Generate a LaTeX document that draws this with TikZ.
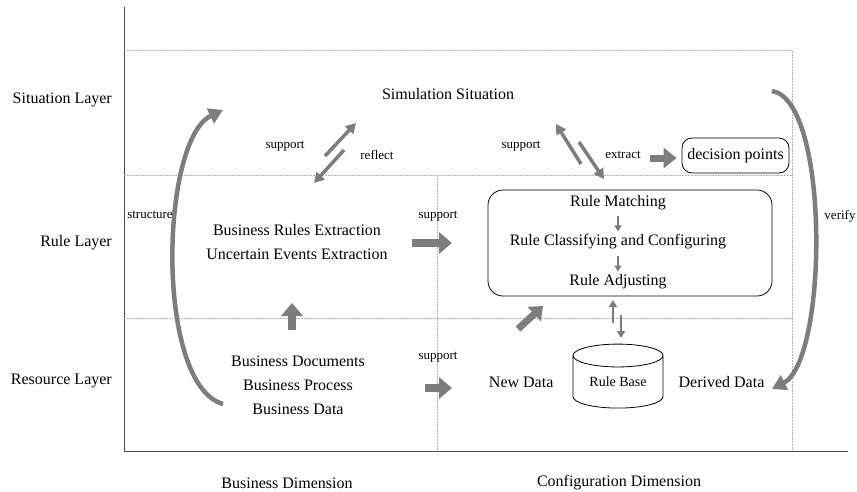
\documentclass[tikz,border=0pt]{standalone}
\usepackage{fontspec}
\setmainfont{Liberation Serif}
\usetikzlibrary{shapes.geometric, positioning, arrows.meta}
\definecolor{arrowgray}{RGB}{125,125,125}

\begin{document}
\begin{tikzpicture}[
    x=1pt, y=-1pt,
    % Define node styles
    layer/.style={
        anchor=east,
        inner sep=1pt,
        font=\fontsize{16}{19}\selectfont
    },
    content/.style={
        align=center,
        inner sep=1pt,
        font=\fontsize{16}{24}\selectfont
    },
    tag/.style={
        inner sep=1pt,
        font=\fontsize{13}{15}\selectfont
    },
    roundbox/.style={
        rectangle,
        draw,
        rounded corners=15pt,
        line width=0.8pt
    },
    database/.style={
        cylinder,
        shape border rotate=90,  % Stands upright
        draw,
        aspect=0.4,
        minimum width=90pt,
        minimum height=64pt,
        inner sep=0pt,
        line width=0.8pt,
        font=\fontsize{14}{16}\selectfont
    },
    guide/.style={
        draw=gray!60,
        dash pattern=on 2pt off 1pt,
        line width=0.5pt
    },
    axis/.style={
        draw=black!70,
        line width=0.8pt
    },
    % Define arrow styles
    fatarrow/.style={
        draw=arrowgray,
        line width=8pt,
        -{Triangle[width=21pt, length=13pt]}
    },
    thinarrow/.style={
        draw=arrowgray,
        line width=3.5pt,
        -{Triangle[width=11pt, length=10pt]}
    },
    smallarrow/.style={
        draw=arrowgray,
        line width=2.5pt,
        -{Triangle[width=8pt, length=7pt]}
    },
    tinyarrow/.style={
        draw=arrowgray,
        line width=2pt,
        shorten <=5pt,
        shorten >=2pt,
        -{Triangle[width=7pt, length=6pt]}
    },
    bendarrow/.style={
        draw=arrowgray,
        line width=4.5pt,
        -{Triangle[width=16pt, length=14pt]}
    }
]
    \useasboundingbox (0,0) rectangle (857,491);

    % Axes and layer guides
    \coordinate (top) at (124,7);
    \coordinate (origin) at (124,451);
    \coordinate (right) at (848,451);
    \draw[axis] (top) -- (origin) -- (right);
    \draw[guide] (124,50) -- (792,50) -- (792,451);
    \draw[guide] (124,175) -- (792,175);
    \draw[guide] (124,318) -- (792,318);
    \draw[guide] (437,175) -- (437,451);

    % Layer and dimension labels
    \node[layer] (situation) at (113,100) {Situation Layer};
    \node[layer] (rule) at (113,243) {Rule Layer};
    \node[layer] (resource) at (113,381) {Resource Layer};
    \node[content] (busdim) at (287,483) {Business Dimension};
    \node[content] (confdim) at (619,483) {Configuration Dimension};

    % Business dimension
    \node[content] (sim) at (448,94) {Simulation Situation};
    \node[content] (extraction) at (297,242) {Business Rules Extraction\\Uncertain Events Extraction};
    \node[content] (resources) at (298,385) {Business Documents\\Business Process\\Business Data};

    % Configuration dimension
    \node[roundbox, minimum width=284pt, minimum height=106pt] (rulebox) at (630,243) {};
    \node[content] (matching) at (618,203) {Rule Matching};
    \node[content] (classify) at (618,242) {Rule Classifying and Configuring};
    \node[content] (adjust) at (618,282) {Rule Adjusting};
    \draw[tinyarrow] (matching) -- (classify);
    \draw[tinyarrow] (classify) -- (adjust);
    \node[roundbox, content, rounded corners=10pt, minimum width=107pt, minimum height=35pt] (decision) at (735.5,155.5) {decision points};
    \node[database] (rulebase) at (618,382) {Rule Base};
    \node[content, left=18pt of rulebase] (newdata) {New Data};
    \node[content, right=14pt of rulebase] (derived) {Derived Data};

    % Arrow labels
    \node[tag] (supportA) at (285,146) {support};
    \node[tag] (reflect) at (377,155) {reflect};
    \node[tag] (supportB) at (521,146) {support};
    \node[tag] (extract) at (623,155) {extract};
    \node[tag] (supportC) at (438,216) {support};
    \node[tag] (supportD) at (438,357) {support};
    \node[tag] (structure) at (150,215) {structure};
    \node[tag] (verify) at (840,216) {verify};

    % Arrow ends
    \coordinate (supTailA) at (325,156);
    \coordinate (supTipA) at (356,123);
    \coordinate (refTail) at (344,150);
    \coordinate (refTip) at (314,183);
    \coordinate (supTailB) at (581,164);
    \coordinate (supTipB) at (556,124);
    \coordinate (extTail) at (579,142);
    \coordinate (extTip) at (604,179);
    \coordinate (pointTail) at (650,158);
    \coordinate (ruleTail) at (412,243);
    \coordinate (ruleTip) at (452,243);
    \coordinate (resTail) at (425,388);
    \coordinate (resTip) at (452,388);
    \coordinate (upTail) at (292,330);
    \coordinate (upTip) at (292,303);
    \coordinate (newTail) at (518,329);
    \coordinate (newTip) at (543,306);
    \coordinate (baseTail) at (613,323);
    \coordinate (baseTip) at (613,300);
    \coordinate (boxTail) at (621,315);
    \coordinate (boxTip) at (621,338);
    \coordinate (structTail) at (223,404);
    \coordinate (structTip) at (223,110);
    \coordinate (verifyTail) at (772,91);
    \coordinate (verifyTip) at (772,389);

    % Arrows
    \draw[thinarrow] (supTailA) -- (supTipA);
    \draw[thinarrow] (refTail) -- (refTip);
    \draw[thinarrow] (supTailB) -- (supTipB);
    \draw[thinarrow] (extTail) -- (extTip);
    \draw[fatarrow, line width=7pt, shorten >=5pt, -{Triangle[width=20pt, length=13pt]}] (pointTail) -- (pointTail -| decision.west);
    \draw[fatarrow] (ruleTail) -- (ruleTip);
    \draw[fatarrow] (resTail) -- (resTip);
    \draw[fatarrow] (upTail) -- (upTip);
    \draw[fatarrow, line width=7pt, -{Triangle[width=19pt, length=12pt]}] (newTail) -- (newTip);
    \draw[smallarrow] (baseTail) -- (baseTip);
    \draw[smallarrow] (boxTail) -- (boxTip);
    \draw[bendarrow] (structTail) .. controls (155,385) and (160,140) .. (structTip);
    \draw[bendarrow] (verifyTail) .. controls (830,100) and (828,360) .. (verifyTip);
\end{tikzpicture}
\end{document}
